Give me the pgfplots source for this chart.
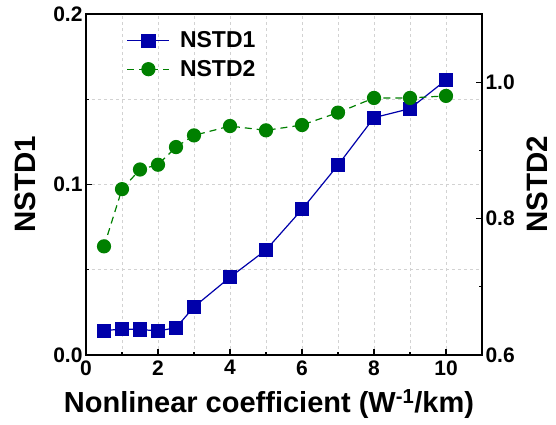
\documentclass[border=0pt]{standalone}
\usepackage{fontspec}
\setmainfont{Liberation Sans}
\usepackage{pgfplots}
\pgfplotsset{compat=1.18}
\definecolor{nblue}{RGB}{0,0,170}
\definecolor{ngreen}{RGB}{0,128,0}
\begin{document}
\begin{tikzpicture}
\path[use as bounding box] (-86pt,-70pt) rectangle (470pt,355pt);
\pgfplotsset{
  common/.style={
    scale only axis, width=396pt, height=341pt,
    at={(0pt,0pt)}, anchor=south west,
    xmin=0, xmax=11,
    /pgf/number format/assume math mode=true,
    /pgf/number format/fixed, /pgf/number format/fixed zerofill, /pgf/number format/precision=1,
    ticklabel style={font=\fontsize{21}{21}\selectfont\bfseries},
    label style={font=\fontsize{29.5}{29.5}\selectfont\bfseries},
    tick align=inside,
    major tick length=6pt, minor tick length=3.5pt,
    every tick/.style={black, line width=1.2pt},
    axis line style={line width=1.4pt},
    legend image code/.code={\draw[mark repeat=2,mark phase=2] plot coordinates {(0pt,0pt)(21pt,0pt)(42pt,0pt)};},
  }
}
\begin{axis}[common,
  ymin=0, ymax=0.2,
  ytick={0,0.1,0.2}, minor ytick={0.05,0.15},
  xtick={0,2,...,10}, minor xtick={1,3,...,9},
  xticklabel style={/pgf/number format/precision=0, /pgf/number format/fixed zerofill=false, yshift=-2pt},
  xtick pos=bottom, ytick pos=left,
  grid=both,
  grid style={gray!35, dashed, line width=0.6pt},
  minor grid style={gray!35, dashed, line width=0.6pt},
  xlabel={Nonlinear coefficient (W\textsuperscript{-1}/km)},
  ylabel={NSTD1},
  xlabel style={yshift=-7pt, xshift=-15pt, font=\fontsize{29}{29}\selectfont\bfseries},
  ylabel style={yshift=11pt},
  legend style={draw=none, fill=none, at={(axis description cs:0.095,0.96)}, anchor=north west,
    font=\fontsize{23}{23}\selectfont\bfseries, row sep=7pt,
    /tikz/every even column/.append style={column sep=4pt}},
  legend cell align=left,
  legend style={/tikz/every odd column/.append style={column sep=8pt}},
]
\addplot[nblue, line width=1.2pt, mark=square*, mark size=6.5pt, mark options={solid}]
coordinates {
(0.5,0.0143) (1,0.0152) (1.5,0.0150) (2,0.0141) (2.5,0.0160) (3,0.0282)
(4,0.0456) (5,0.0616) (6,0.0854) (7,0.1114) (8,0.1392) (9,0.1445) (10,0.1613)
};
\addlegendentry{NSTD1}
\addlegendimage{ngreen, line width=1.2pt, dash pattern=on 7pt off 5pt, mark=*, mark size=6.5pt, mark options={solid}}
\addlegendentry{NSTD2}
\end{axis}
\begin{axis}[common,
  ymin=0.6, ymax=1.1,
  ytick={0.6,0.8,1.0}, minor ytick={0.7,0.9},
  axis y line*=right, axis x line=none,
  ylabel={NSTD2},
  ylabel style={yshift=-5pt},
]
\addplot[ngreen, line width=1.2pt, dash pattern=on 7pt off 5pt, mark=*, mark size=6.5pt, mark options={solid}]
coordinates {
(0.5,0.7593) (1,0.8432) (1.5,0.8720) (2,0.8790) (2.5,0.9049) (3,0.9220)
(4,0.9357) (5,0.9294) (6,0.9372) (7,0.9554) (8,0.9769) (9,0.9769) (10,0.9799)
};
\end{axis}
\end{tikzpicture}
\end{document}
